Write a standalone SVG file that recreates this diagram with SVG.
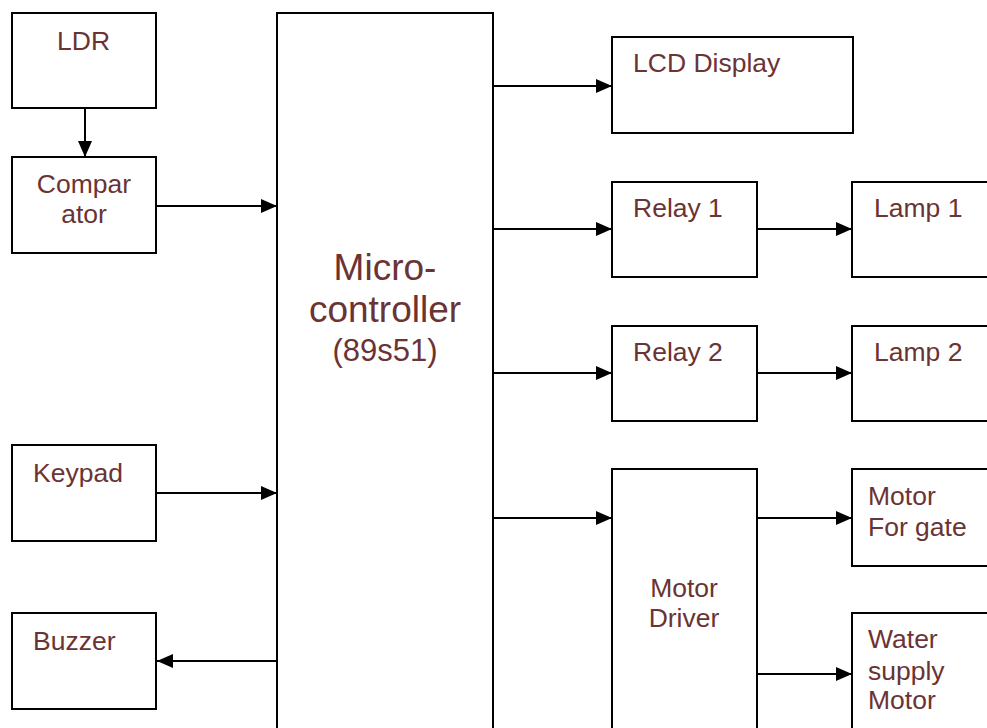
<svg xmlns="http://www.w3.org/2000/svg" width="987" height="728" viewBox="0 0 987 728">
<style>
.box{fill:#fff;stroke:#000;stroke-width:2}
.t{font-family:"Liberation Sans",Arial,sans-serif;font-size:26.5px;fill:#6b3333}
.tc{text-anchor:middle}
.big{font-size:37px}
.mid{font-size:31px}
.c{stroke:#000;stroke-width:2;fill:none}
</style>
<defs>
<marker id="ah" markerWidth="16" markerHeight="14" refX="16" refY="7" orient="auto" markerUnits="userSpaceOnUse">
<path d="M0,0 L16,7 L0,14 Z" fill="#000"/>
</marker>
</defs>
<rect width="987" height="728" fill="#fff"/>
<g id="ldr"><rect class="box" x="12" y="13" width="144" height="95"/><text class="t" x="57" y="50">LDR</text></g>
<g id="comparator"><rect class="box" x="12" y="157" width="144" height="96"/><text class="t tc" x="84" y="193">Compar</text><text class="t tc" x="84" y="223">ator</text></g>
<g id="keypad"><rect class="box" x="12" y="445" width="144" height="96"/><text class="t" x="33" y="482">Keypad</text></g>
<g id="buzzer"><rect class="box" x="12" y="613" width="144" height="96"/><text class="t" x="33" y="650">Buzzer</text></g>
<g id="mcu"><rect class="box" x="277" y="13" width="216" height="730"/><text class="t tc big" x="385" y="280">Micro-</text><text class="t tc big" x="385" y="322">controller</text><text class="t tc mid" x="385" y="361">(89s51)</text></g>
<g id="lcd"><rect class="box" x="612" y="37" width="241" height="96"/><text class="t" x="633" y="72">LCD Display</text></g>
<g id="relay1"><rect class="box" x="612" y="182" width="145" height="95"/><text class="t" x="633" y="217">Relay 1</text></g>
<g id="lamp1"><rect class="box" x="852" y="182" width="150" height="95"/><text class="t" x="874" y="217">Lamp 1</text></g>
<g id="relay2"><rect class="box" x="612" y="326" width="145" height="95"/><text class="t" x="633" y="361">Relay 2</text></g>
<g id="lamp2"><rect class="box" x="852" y="326" width="150" height="95"/><text class="t" x="874" y="361">Lamp 2</text></g>
<g id="motordriver"><rect class="box" x="612" y="469" width="145" height="280"/><text class="t tc" x="684" y="597">Motor</text><text class="t tc" x="684" y="627">Driver</text></g>
<g id="gatemotor"><rect class="box" x="852" y="469" width="150" height="97"/><text class="t" x="868" y="505">Motor</text><text class="t" x="868" y="536">For gate</text></g>
<g id="watermotor"><rect class="box" x="852" y="613" width="150" height="130"/><text class="t" x="868" y="648">Water</text><text class="t" x="868" y="680">supply</text><text class="t" x="868" y="709">Motor</text></g>
<g id="connectors">
<line class="c" x1="85" y1="108" x2="85" y2="157" marker-end="url(#ah)"/>
<line class="c" x1="156" y1="206" x2="277" y2="206" marker-end="url(#ah)"/>
<line class="c" x1="156" y1="493" x2="277" y2="493" marker-end="url(#ah)"/>
<line class="c" x1="277" y1="661" x2="157" y2="661" marker-end="url(#ah)"/>
<line class="c" x1="493" y1="86" x2="612" y2="86" marker-end="url(#ah)"/>
<line class="c" x1="493" y1="229" x2="612" y2="229" marker-end="url(#ah)"/>
<line class="c" x1="757" y1="229" x2="852" y2="229" marker-end="url(#ah)"/>
<line class="c" x1="493" y1="373" x2="612" y2="373" marker-end="url(#ah)"/>
<line class="c" x1="757" y1="373" x2="852" y2="373" marker-end="url(#ah)"/>
<line class="c" x1="493" y1="518" x2="612" y2="518" marker-end="url(#ah)"/>
<line class="c" x1="757" y1="518" x2="852" y2="518" marker-end="url(#ah)"/>
<line class="c" x1="757" y1="674" x2="852" y2="674" marker-end="url(#ah)"/>
</g>
</svg>
